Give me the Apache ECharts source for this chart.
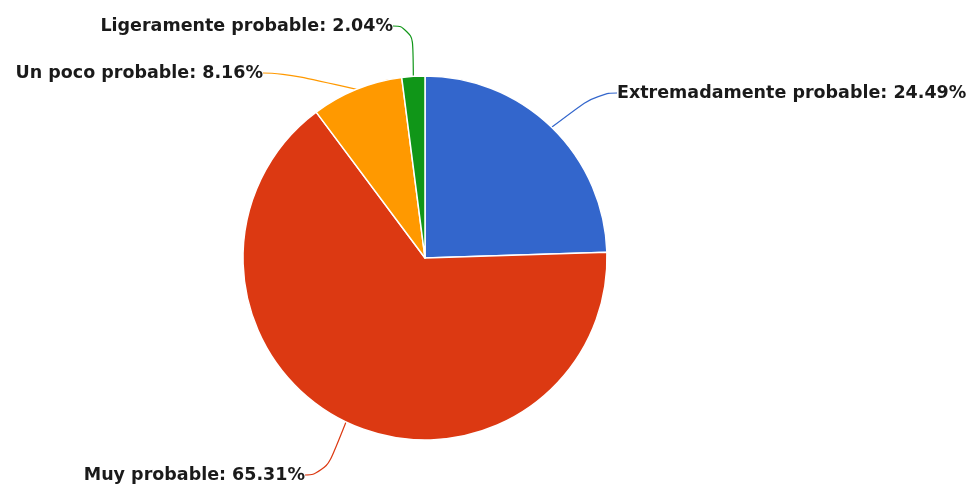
<!DOCTYPE html>
<html><head><meta charset="utf-8">
<script src="https://cdn.jsdelivr.net/npm/echarts@6/dist/echarts.min.js"></script>
<style>html,body{margin:0;padding:0;background:#fff}#c{width:973px;height:484px}</style>
</head><body><div id="c"></div>
<script>
const categories = ["Extremadamente probable", "Muy probable", "Un poco probable", "Ligeramente probable"];
const values = [24.49, 65.31, 8.16, 2.04];
const colors = ["#3366CC", "#DC3912", "#FF9900", "#109618"];
const labelSpots = [
  {x: 609, y: 93, align: "left"},
  {x: 313, y: 475, align: "right"},
  {x: 271, y: 73, align: "right"},
  {x: 401, y: 26, align: "right"}
];
const chart = echarts.init(document.getElementById("c"));
chart.setOption({
  animation: false,
  series: [{
    type: "pie",
    center: [425, 258],
    radius: 182,
    startAngle: 90,
    clockwise: true,
    data: categories.map((n, i) => ({name: n, value: values[i], itemStyle: {color: colors[i]}})),
    itemStyle: {borderColor: "#fff", borderWidth: 1.5},
    label: {
      show: true, position: "outside",
      formatter: p => p.name + ": " + p.value.toFixed(2) + "%",
      fontFamily: "DejaVu Sans", fontWeight: "bold", fontSize: 17.5, color: "#1a1a1a",
      padding: [0, 8]
    },
    labelLine: {show: true, smooth: 0.6, length: 15, length2: 20, lineStyle: {width: 1.2}},
    labelLayout: p => {
      const s = labelSpots[p.dataIndex];
      return {x: s.x, y: s.y, align: s.align, verticalAlign: "middle"};
    }
  }]
});
</script></body></html>
